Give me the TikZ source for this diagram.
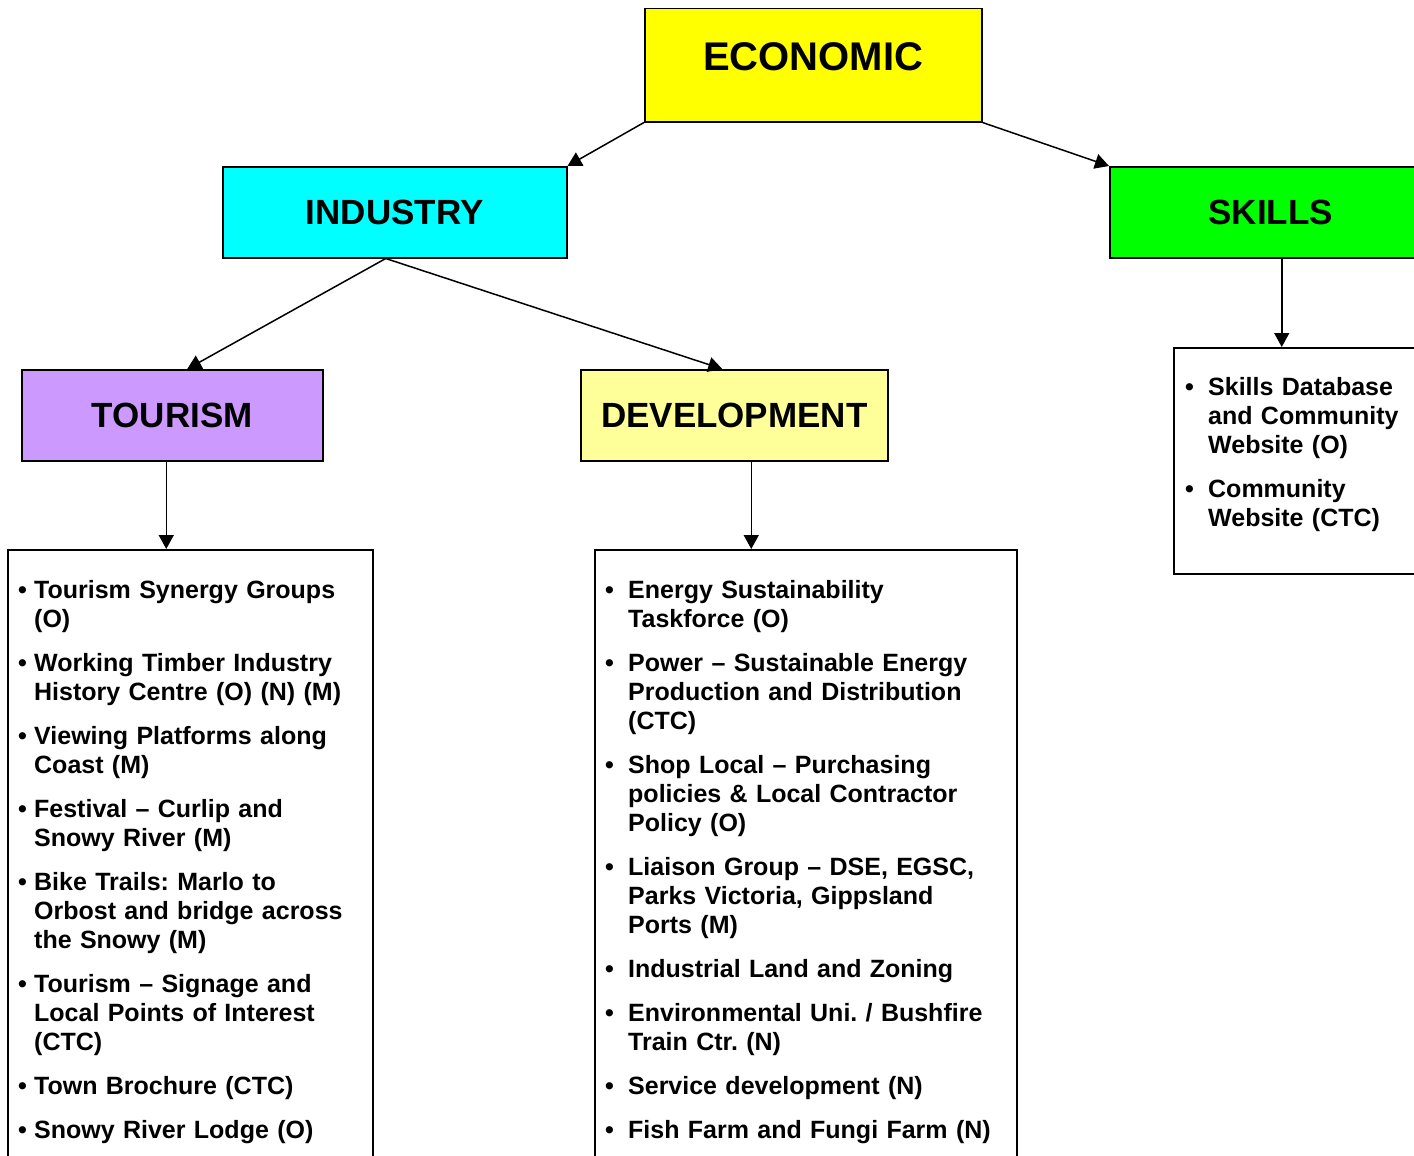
\documentclass[tikz,border=0pt]{standalone}
\usepackage{fontspec}
\setmainfont{Liberation Sans}
\usetikzlibrary{arrows.meta,calc}

\definecolor{econyellow}{HTML}{FFFF00}
\definecolor{indcyan}{HTML}{00FFFF}
\definecolor{skillgreen}{HTML}{00FF00}
\definecolor{tourpurple}{HTML}{CC99FF}
\definecolor{devyellow}{HTML}{FFFF99}

\frenchspacing
\newlength\bulletw
\newcommand{\litem}[1]{\hangindent=\bulletw\hangafter=1\noindent\makebox[\bulletw][l]{\textbullet}#1\par\vspace{15pt}}

\begin{document}
\begin{tikzpicture}[x=1pt,y=-1pt,
    headbox/.style={draw, line width=1.5pt, anchor=north west, inner sep=0pt,
      font=\bfseries\fontsize{35}{40}\selectfont},
    listbox/.style={draw, line width=1.5pt, anchor=north west, inner sep=0pt},
    listtext/.style={anchor=north west, inner sep=0pt, align=left,
      font=\bfseries\fontsize{25}{29}\selectfont},
    arr/.style={-{Triangle[length=14pt,width=15pt]}, line width=1.5pt}
  ]
    \useasboundingbox (0,0) rectangle (1414,1156);
    \clip (0,0) rectangle (1414,1156);

    % top level
    \node[headbox, fill=econyellow, minimum width=337pt, minimum height=113pt, text depth=18pt,
      font=\bfseries\fontsize{40}{46}\selectfont] (economic) at (644,8) {ECONOMIC};
    \node[headbox, fill=indcyan, minimum width=344pt, minimum height=91pt] (industry) at (222,166) {INDUSTRY};
    \node[headbox, fill=skillgreen, minimum width=322pt, minimum height=91pt] (skills) at (1109,166) {SKILLS};
    \node[headbox, fill=tourpurple, minimum width=301pt, minimum height=91pt] (tourism) at (21,369) {TOURISM};
    \node[headbox, fill=devyellow, minimum width=307pt, minimum height=91pt] (development) at (580,369) {DEVELOPMENT};

    % list boxes
    \node[listbox, minimum width=365pt, minimum height=700pt] (tourlist) at (7,549) {};
    \node[listbox, minimum width=422pt, minimum height=700pt] (devlist) at (594,549) {};
    \node[listbox, minimum width=300pt, minimum height=226pt] (skilllist) at (1173,347) {};

    \node[listtext, text width=350pt] (tourtext) at (18,580) {\setlength\bulletw{16pt}%
      \litem{Tourism Synergy Groups\newline(O)}
      \litem{Working Timber Industry\newline History Centre (O) (N) (M)}
      \litem{Viewing Platforms along\newline Coast (M)}
      \litem{Festival -- Curlip and\newline Snowy River (M)}
      \litem{Bike Trails: Marlo to\newline Orbost and bridge across\newline the Snowy (M)}
      \litem{Tourism -- Signage and\newline Local Points of Interest\newline(CTC)}
      \litem{Town Brochure (CTC)}
      \litem{Snowy River Lodge (O)}};
    \node[listtext, text width=410pt] (devtext) at (605,580) {\setlength\bulletw{23pt}%
      \litem{Energy Sustainability\newline Taskforce (O)}
      \litem{Power -- Sustainable Energy\newline Production and Distribution\newline(CTC)}
      \litem{Shop Local -- Purchasing\newline policies \& Local Contractor\newline Policy (O)}
      \litem{Liaison Group -- DSE, EGSC,\newline Parks Victoria, Gippsland\newline Ports (M)}
      \litem{Industrial Land and Zoning}
      \litem{Environmental Uni. / Bushfire\newline Train Ctr. (N)}
      \litem{Service development (N)}
      \litem{Fish Farm and Fungi Farm (N)}};
    \node[listtext, text width=225pt] (skilltext) at (1185,377) {\setlength\bulletw{23pt}%
      \litem{Skills Database\newline and Community\newline Website (O)}
      \litem{Community\newline Website (CTC)}};

    % connectors
    \draw[arr] (economic.south west) -- (industry.north east);
    \draw[arr] (economic.south east) -- (skills.north west);
    \draw[arr] ([xshift=-9pt]industry.south) -- ([xshift=15pt]tourism.north);
    \draw[arr] ([xshift=-9pt]industry.south) -- ([xshift=-12pt]development.north);
    \draw[arr] ([xshift=11pt]skills.south) -- ([xshift=11pt]skills.south |- skilllist.north);
    \draw[arr] ([xshift=-6pt]tourism.south) -- ([xshift=-6pt]tourism.south |- tourlist.north);
    \draw[arr] ([xshift=17pt]development.south) -- ([xshift=17pt]development.south |- devlist.north);
\end{tikzpicture}
\end{document}
